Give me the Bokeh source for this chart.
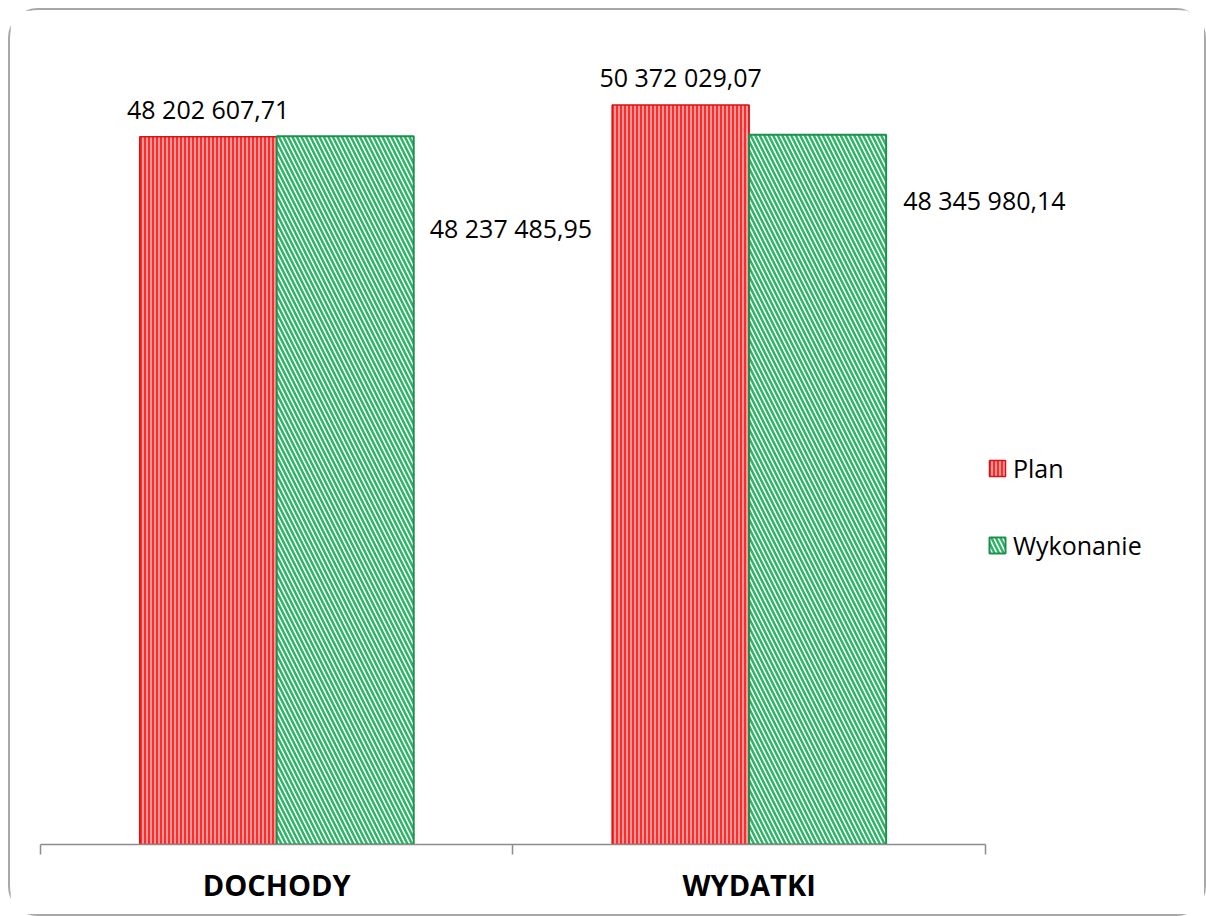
from bokeh.plotting import figure
from bokeh.models import (ColumnDataSource, Range1d, LinearAxis, FixedTicker,
                          Legend, LegendItem)
from bokeh.transform import dodge
from bokeh.core.properties import value
from bokeh.embed import file_html
from bokeh.resources import INLINE

categories = ["DOCHODY", "WYDATKI"]
plan = [48202607.71, 50372029.07]
wykonanie = [48237485.95, 48345980.14]
series_names = ["Plan", "Wykonanie"]

def fmt(v):
    return f"{v:,.2f}".replace(",", " ").replace(".", ",")

FONT = "Open Sans"
n = len(categories)

p = figure(width=1198, height=908, output_backend="svg", toolbar_location=None,
           x_range=Range1d(0, 2.43), y_range=Range1d(0, 56.81e6),
           x_axis_location=None, y_axis_location=None,
           min_border_left=30, min_border_right=20, min_border_top=0, min_border_bottom=74)
p.outline_line_color = None
p.xgrid.visible = False
p.ygrid.visible = False
p.styles = {"border": "2px solid #a8a8a8", "border-radius": "30px",
            "margin-left": "8px", "margin-top": "8px"}

src = ColumnDataSource(dict(cat=categories, xc=[i + 0.5 for i in range(n)],
                            plan=plan, wyk=wykonanie,
                            plan_lbl=[fmt(v) for v in plan],
                            wyk_lbl=[fmt(v) for v in wykonanie],
                            wyk_dx=[16, 17], wyk_dy=[92, 65]))

r_plan = p.vbar(x=dodge("xc", -0.145), top="plan", width=0.29, source=src,
                fill_color="#ff9a9a", line_color="#d41414", line_width=1.5,
                hatch_pattern="|", hatch_color="#ff2a2a", hatch_scale=4, hatch_weight=2)
r_wyk = p.vbar(x=dodge("xc", 0.145), top="wyk", width=0.29, source=src,
               fill_color="white", line_color="#1f8f4f", line_width=2,
               hatch_pattern="\\", hatch_color="#2bb565", hatch_scale=9, hatch_weight=2.5)

p.text(x=dodge("xc", -0.145), y="plan", text="plan_lbl", source=src,
       y_offset=-28, text_align="center", text_baseline="middle",
       text_font=value(FONT), text_font_size="25px", text_color="black")
p.text(x=dodge("xc", 0.29), y="wyk", text="wyk_lbl", source=src,
       x_offset="wyk_dx", y_offset="wyk_dy", text_align="left", text_baseline="middle",
       text_font=value(FONT), text_font_size="25px", text_color="black")

ax = LinearAxis(ticker=FixedTicker(ticks=[i + 0.5 for i in range(n)], minor_ticks=list(range(n + 1))),
                major_label_overrides={i + 0.5: c for i, c in enumerate(categories)},
                bounds=(0, n))
ax.axis_line_color = "#8c8c8c"
ax.axis_line_width = 1.5
ax.major_tick_out = 0
ax.major_tick_in = 0
ax.minor_tick_out = 10
ax.minor_tick_in = 0
ax.minor_tick_line_color = "#8c8c8c"
ax.minor_tick_line_width = 1.5
ax.major_label_text_font = FONT
ax.major_label_text_font_style = "bold"
ax.major_label_text_font_size = "29px"
ax.major_label_text_color = "black"
ax.major_label_standoff = 10
p.add_layout(ax, "below")

legend = Legend(items=[LegendItem(label=series_names[0], renderers=[r_plan]),
                       LegendItem(label=series_names[1], renderers=[r_wyk])],
                location=(947, 282), padding=0, margin=0, spacing=43,
                glyph_width=20, glyph_height=20, label_height=20, label_standoff=6,
                label_text_font=FONT, label_text_font_size="25px", label_text_color="black",
                border_line_color=None, background_fill_alpha=0)
p.add_layout(legend, "center")

open("out.html", "w").write(file_html(p, INLINE))
